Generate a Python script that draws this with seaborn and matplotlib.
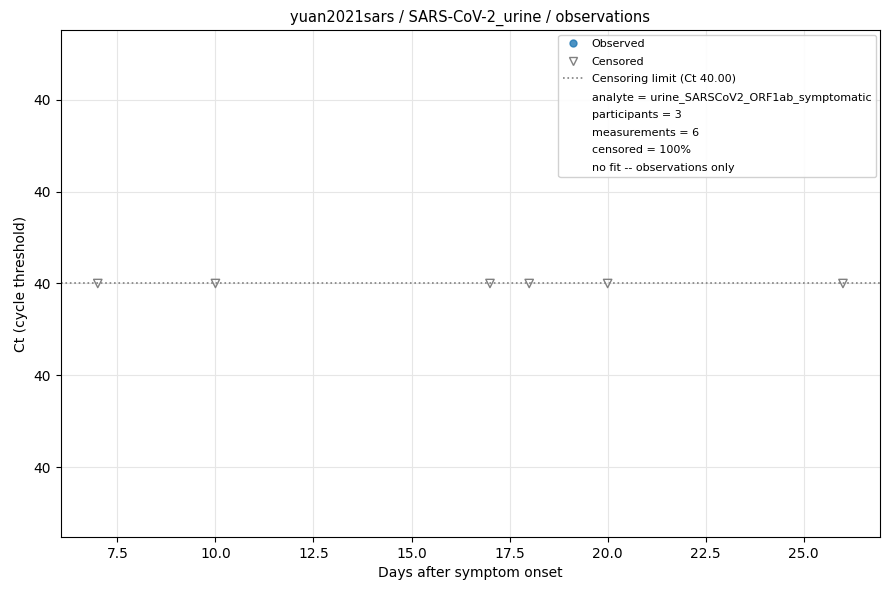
import numpy as np
import pandas as pd
import matplotlib
matplotlib.use("Agg")
import matplotlib.pyplot as plt
import seaborn as sns
from matplotlib.lines import Line2D
from matplotlib.ticker import FormatStrFormatter

# data
obs_days = []
obs_ct = []
cens_days = [7, 10, 17, 18, 20, 26]
cens_ct = [40, 40, 40, 40, 40, 40]
ct_limit = 40.0
info_lines = [
    "analyte = urine_SARSCoV2_ORF1ab_symptomatic",
    "participants = 3",
    "measurements = 6",
    "censored = 100%",
    "no fit -- observations only",
]
y_ticks = [39.96, 39.98, 40.00, 40.02, 40.04]

sns.set_style("white", rc={"text.color": "black", "axes.labelcolor": "black",
                           "xtick.color": "black", "ytick.color": "black"})
plt.rcParams['font.family'] = ['DejaVu Sans']

df_cens = pd.DataFrame({"day": cens_days, "ct": cens_ct})

fig, ax = plt.subplots(figsize=(8.9, 5.9), dpi=100)
ax.grid(True, color="#e6e6e6", linewidth=0.8)
ax.set_axisbelow(True)

sns.scatterplot(data=df_cens, x="day", y="ct", ax=ax, marker="v", s=36,
                facecolor="none", edgecolor="gray", linewidth=1.0, zorder=3)
ax.axhline(ct_limit, color="gray", linestyle=":", linewidth=1.2, zorder=2)

ax.set_xlim(6.05, 26.95)
ax.set_ylim(ct_limit - 0.0551, ct_limit + 0.0551)
ax.set_yticks(y_ticks)
ax.yaxis.set_major_formatter(FormatStrFormatter("%.0f"))

for s in ax.spines.values():
    s.set_color("black")
    s.set_linewidth(0.8)
ax.tick_params(axis="both", which="both", length=3.5, width=0.8, direction="out",
               labelsize=10, bottom=True, left=True, color="black", labelcolor="black")

ax.set_xlabel("Days after symptom onset", fontsize=10)
ax.set_ylabel("Ct (cycle threshold)", fontsize=10)
ax.set_title("yuan2021sars / SARS-CoV-2_urine / observations", fontsize=10.5)

handles = [
    Line2D([], [], marker="o", linestyle="none", markerfacecolor="#1f77b4",
           markeredgecolor="#1f77b4", alpha=0.8, markersize=5),
    Line2D([], [], marker="v", linestyle="none", markerfacecolor="none",
           markeredgecolor="gray", markersize=6),
    Line2D([], [], color="gray", linestyle=":", linewidth=1.2),
]
labels = ["Observed", "Censored", f"Censoring limit (Ct {ct_limit:.2f})"]
for t in info_lines:
    handles.append(Line2D([], [], linestyle="none", marker="none"))
    labels.append(t)
ax.legend(handles, labels, loc="upper right", fontsize=8, framealpha=0.9,
          edgecolor="#cccccc", labelspacing=0.68, labelcolor="black",
          handlelength=1.8, borderaxespad=0.4)

fig.subplots_adjust(left=0.068, right=0.989, top=0.949, bottom=0.09)
fig.savefig("out.png", dpi=100)
